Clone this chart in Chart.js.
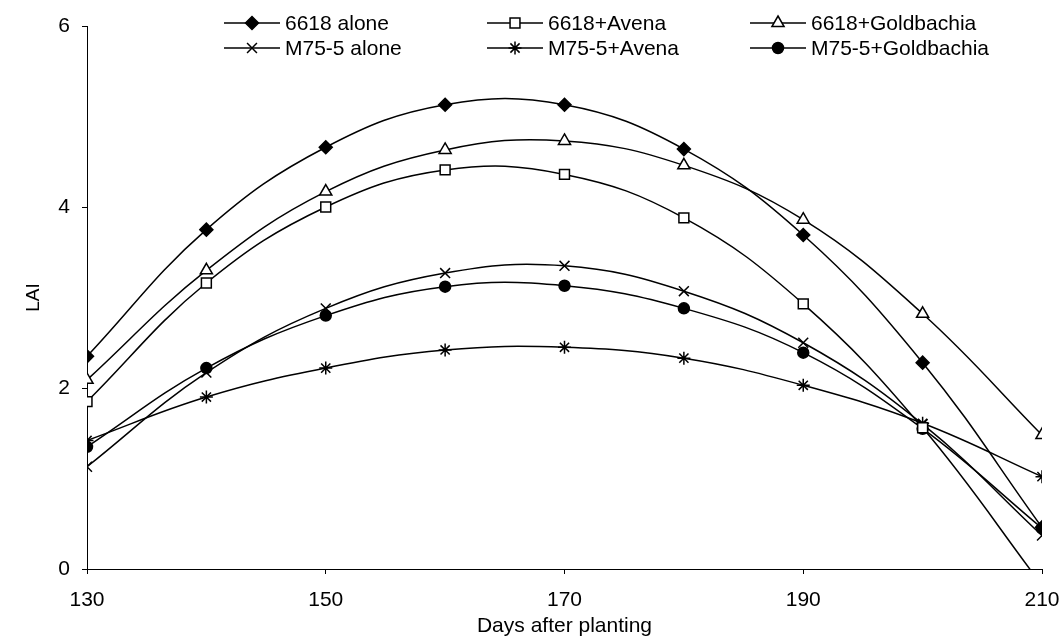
<!DOCTYPE html>
<html>
<head>
<meta charset="utf-8">
<script src="https://cdn.jsdelivr.net/npm/chart.js@4/dist/chart.umd.min.js"></script>
<style>
  html, body { margin: 0; padding: 0; background: #fff; }
  #wrap { width: 1064px; height: 641px; }
</style>
</head>
<body>
<div id="wrap"><canvas id="c" width="1064" height="641"></canvas></div>
<script>
// ---- data ----
const days = [130, 140, 150, 160, 170, 180, 190, 200, 210];
const s6618Alone      = [2.35, 3.75, 4.66, 5.13, 5.13, 4.64, 3.69, 2.28, 0.46];
const s6618Avena      = [1.85, 3.16, 4.00, 4.41, 4.36, 3.88, 2.93, 1.56, -0.18];
const s6618Goldbachia = [2.09, 3.30, 4.17, 4.63, 4.73, 4.46, 3.86, 2.82, 1.48];
const sM755Alone      = [1.13, 2.17, 2.88, 3.27, 3.35, 3.07, 2.50, 1.60, 0.37];
const sM755Avena      = [1.42, 1.90, 2.22, 2.42, 2.45, 2.33, 2.03, 1.61, 1.02];
const sM755Goldbachia = [1.35, 2.22, 2.80, 3.12, 3.13, 2.88, 2.39, 1.55, 0.45];
const seriesNames = ['6618 alone', '6618+Avena', '6618+Goldbachia', 'M75-5 alone', 'M75-5+Avena', 'M75-5+Goldbachia'];
const yTicks = [0, 2, 4, 6];
const xTicks = [130, 150, 170, 190, 210];

const FONT = "'Liberation Sans', Arial, sans-serif";

function pts(vals) { return days.map((d, i) => ({ x: d, y: vals[i] })); }

function ds(label, vals, style, radius, fill) {
  return {
    label: label,
    data: pts(vals),
    borderColor: '#000',
    borderWidth: 1.5,
    backgroundColor: fill,
    pointBackgroundColor: fill,
    pointBorderColor: '#000',
    pointBorderWidth: 1.5,
    pointStyle: style,
    pointRadius: radius,
    tension: 0.4,
    fill: false
  };
}

const datasets = [
  ds(seriesNames[0], s6618Alone, 'rectRot', 6.5, '#000'),
  ds(seriesNames[1], s6618Avena, 'rect', 7, '#fff'),
  ds(seriesNames[2], s6618Goldbachia, 'triangle', 7, '#fff'),
  ds(seriesNames[3], sM755Alone, 'crossRot', 7, '#000'),
  ds(seriesNames[4], sM755Avena, 'star', 6.5, '#000'),
  ds(seriesNames[5], sM755Goldbachia, 'circle', 5.5, '#000')
];

// legend layout: 3 columns x 2 rows (positions only)
const legendCols = [224, 487, 750];
const legendRows = [23, 48];
const legendLineLen = 56;

const legendPlugin = {
  id: 'gridLegend',
  afterDraw(chart) {
    const ctx = chart.ctx;
    ctx.save();
    chart.data.datasets.forEach((d, i) => {
      const col = i % 3, row = Math.floor(i / 3);
      const x0 = legendCols[col], y = legendRows[row];
      ctx.strokeStyle = '#000';
      ctx.lineWidth = 1.5;
      ctx.beginPath();
      ctx.moveTo(x0, y);
      ctx.lineTo(x0 + legendLineLen, y);
      ctx.stroke();
      ctx.fillStyle = d.pointBackgroundColor;
      ctx.strokeStyle = '#000';
      ctx.lineWidth = 1.5;
      Chart.helpers.drawPoint(ctx, {
        pointStyle: d.pointStyle,
        radius: d.pointRadius,
        rotation: 0,
        borderWidth: 1.5
      }, x0 + legendLineLen / 2, y);
      ctx.fillStyle = '#000';
      ctx.font = '21px ' + FONT;
      ctx.textAlign = 'left';
      ctx.textBaseline = 'middle';
      ctx.fillText(d.label, x0 + legendLineLen + 5, y + 1);
    });
    ctx.restore();
  }
};

new Chart(document.getElementById('c'), {
  type: 'line',
  data: { datasets: datasets },
  plugins: [legendPlugin],
  options: {
    responsive: false,
    animation: false,
    devicePixelRatio: 1,
    layout: { padding: { top: 26, right: 22, bottom: 0, left: 0 } },
    plugins: { legend: { display: false }, tooltip: { enabled: false } },
    scales: {
      x: {
        type: 'linear',
        min: 130, max: 210,
        afterBuildTicks(scale) { scale.ticks = xTicks.map(v => ({ value: v })); },
        afterFit(scale) { scale.height = 72; scale.paddingLeft = 0; scale.paddingRight = 0; },
        border: { display: true, color: '#000', width: 1 },
        grid: { display: true, drawOnChartArea: false, drawTicks: true, tickLength: 5, color: '#000' },
        ticks: { color: '#000', font: { family: FONT, size: 21 }, padding: 14, maxRotation: 0 },
        title: { display: true, text: 'Days after planting', color: '#000', font: { family: FONT, size: 21 }, padding: { top: 0, bottom: 2 } }
      },
      y: {
        min: 0, max: 6,
        afterBuildTicks(scale) { scale.ticks = yTicks.map(v => ({ value: v })); },
        afterFit(scale) { scale.width = 87; scale.paddingTop = 0; scale.paddingBottom = 0; },
        border: { display: true, color: '#000', width: 1 },
        grid: { display: true, drawOnChartArea: false, drawTicks: true, tickLength: 5, color: '#000' },
        ticks: { color: '#000', font: { family: FONT, size: 21 }, padding: 12 },
        title: { display: true, text: 'LAI', color: '#000', font: { family: FONT, size: 19 }, padding: { top: 22, bottom: 0 } }
      }
    }
  }
});
</script>
</body>
</html>
